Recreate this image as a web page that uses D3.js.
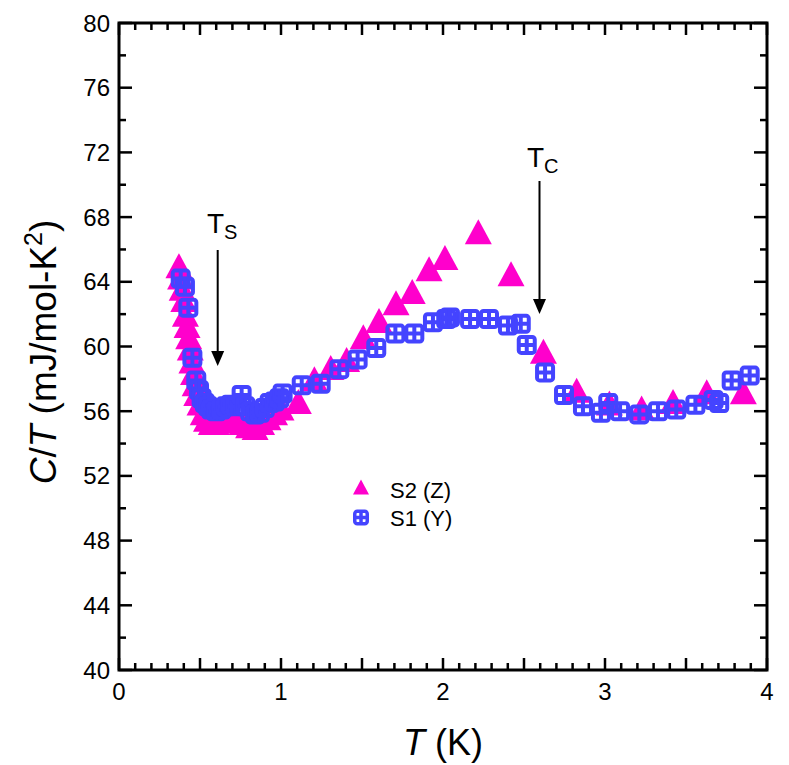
<!DOCTYPE html>
<html><head><meta charset="utf-8">
<script src="https://cdn.jsdelivr.net/npm/d3@7"></script>
<style>body{margin:0;background:#fff}svg{display:block}text{font-family:"Liberation Sans",Arial,sans-serif;fill:#000}</style>
</head><body>
<svg id="c" width="789" height="765"></svg>
<script>
// S2 (Z) – triangles
const s2T = [0.37,0.38,0.39,0.40,0.41,0.42,0.43,0.44,0.45,0.46,0.47,0.48,0.50,0.52,0.54,0.57,0.60,0.64,0.68,0.72,0.76,0.80,0.84,0.88,0.92,0.96,1.00,1.107,1.206,1.307,1.405,1.508,1.605,1.71,1.81,1.914,2.012,2.218,2.42,2.62,2.825,3.027,3.226,3.42,3.628,3.854];
const s2C = [65.0,64.3,63.6,62.9,62.0,61.3,60.6,59.9,59.1,58.4,57.7,57.1,56.5,55.9,55.5,55.3,55.3,55.4,55.6,55.5,55.3,55.1,55.0,55.3,55.6,55.9,56.2,56.6,58.0,58.7,59.2,60.6,61.6,62.7,63.4,64.8,65.5,67.1,64.5,59.7,57.3,56.5,56.2,56.6,57.2,57.2];
// S1 (Y) – squares
const s1T = [0.381,0.407,0.428,0.453,0.477,0.494,0.51,0.53,0.55,0.57,0.60,0.63,0.66,0.69,0.72,0.757,0.78,0.81,0.84,0.87,0.90,0.93,0.96,0.99,1.01,1.128,1.245,1.36,1.473,1.588,1.706,1.823,1.938,2.02,2.043,2.167,2.284,2.401,2.48,2.517,2.63,2.747,2.864,2.975,3.02,3.093,3.212,3.327,3.44,3.558,3.67,3.705,3.782,3.893];
const s1C = [64.2,63.7,62.4,59.3,57.9,57.3,56.8,56.5,56.3,56.1,56.0,56.1,56.3,56.4,56.3,57.0,56.3,56.0,55.8,55.9,56.2,56.5,56.6,56.8,57.1,57.6,57.7,58.6,59.2,59.9,60.8,60.8,61.5,61.7,61.8,61.7,61.7,61.3,61.4,60.1,58.4,57.0,56.3,55.9,56.5,56.0,55.8,56.0,56.1,56.4,56.7,56.5,57.9,58.2];
const xTickLabels = [0,1,2,3,4];
const yTickLabels = [40,44,48,52,56,60,64,68,72,76,80];
const seriesNames = ["S2 (Z)","S1 (Y)"];

const svg = d3.select("#c");
const L=119, R=767, Tp=23, B=670;
const x = d3.scaleLinear().domain([0,4]).range([L,R]);
const y = d3.scaleLinear().domain([40,80]).range([B,Tp]);
const magenta="#ff00cc", blue="#4444ff";

function tickSet(step, n0, n1){ return d3.range(n0, n1+1e-9, step).map(v=>+v.toFixed(3)); }
const xMinor = tickSet(0.1,0,4).filter(v=>Math.abs(v*2-Math.round(v*2))>1e-6);
const xMajor = tickSet(0.5,0,4);
const yMinor = tickSet(2,40,80).filter(v=>v%4!==0);
const yMajor = tickSet(4,40,80);
const g = svg.append("g").attr("stroke","#000").attr("stroke-width",2.5);
xMinor.forEach(v=>{g.append("line").attr("x1",x(v)).attr("x2",x(v)).attr("y1",B).attr("y2",B-7);
                   g.append("line").attr("x1",x(v)).attr("x2",x(v)).attr("y1",Tp).attr("y2",Tp+7);});
xMajor.forEach(v=>{g.append("line").attr("x1",x(v)).attr("x2",x(v)).attr("y1",B).attr("y2",B-12);
                   g.append("line").attr("x1",x(v)).attr("x2",x(v)).attr("y1",Tp).attr("y2",Tp+12);});
yMinor.forEach(v=>{g.append("line").attr("y1",y(v)).attr("y2",y(v)).attr("x1",L).attr("x2",L+7);
                   g.append("line").attr("y1",y(v)).attr("y2",y(v)).attr("x1",R).attr("x2",R-7);});
yMajor.forEach(v=>{g.append("line").attr("y1",y(v)).attr("y2",y(v)).attr("x1",L).attr("x2",L+13);
                   g.append("line").attr("y1",y(v)).attr("y2",y(v)).attr("x1",R).attr("x2",R-13);});
svg.append("rect").attr("x",L).attr("y",Tp).attr("width",R-L).attr("height",B-Tp)
  .attr("fill","none").attr("stroke","#000").attr("stroke-width",3);

svg.selectAll(".xl").data(xTickLabels).enter().append("text")
  .attr("x",d=>x(d)).attr("y",B+30).attr("text-anchor","middle").attr("font-size",24).text(d=>d);
svg.selectAll(".yl").data(yTickLabels).enter().append("text")
  .attr("x",L-9).attr("y",d=>y(d)+8.5).attr("text-anchor","end").attr("font-size",24).text(d=>d);

const xt = svg.append("text").attr("x",443).attr("y",755).attr("text-anchor","middle").attr("font-size",36);
xt.append("tspan").attr("font-style","italic").text("T");
xt.append("tspan").text(" (K)");
const yt = svg.append("text").attr("transform","translate(56,352) rotate(-90)").attr("text-anchor","middle").attr("font-size",37);
yt.append("tspan").attr("font-style","italic").text("C");
yt.append("tspan").text("/");
yt.append("tspan").attr("font-style","italic").text("T");
yt.append("tspan").text(" (mJ/mol-K");
yt.append("tspan").attr("font-size",25).attr("dy",-14).text("2");
yt.append("tspan").attr("dy",14).text(")");

const triPath=(w,h)=>`M0,${-h/2}L${w/2},${h/2}L${-w/2},${h/2}Z`;
function square(sel, s, sw){
  const h=s/2;
  sel.append("rect").attr("x",-h).attr("y",-h).attr("width",s).attr("height",s).attr("rx",2.5)
    .attr("fill","none").attr("stroke",blue).attr("stroke-width",sw);
  sel.append("path").attr("d",`M${-h},0H${h}M0,${-h}V${h}`).attr("stroke",blue).attr("stroke-width",sw);
}
const d2 = s2T.map((t,i)=>({t,c:s2C[i]}));
const d1 = s1T.map((t,i)=>({t,c:s1C[i]}));
svg.append("g").selectAll("path").data(d2).enter().append("path")
  .attr("transform",d=>`translate(${x(d.t)},${y(d.c)})`).attr("d",triPath(27,25)).attr("fill",magenta);
svg.append("g").selectAll("g").data(d1).enter().append("g")
  .attr("transform",d=>`translate(${x(d.t)},${y(d.c)})`).each(function(){square(d3.select(this),16,4);});

svg.append("path").attr("transform","translate(361,487)").attr("d",triPath(16,15)).attr("fill",magenta);
square(svg.append("g").attr("transform","translate(361,517.5)"),12.5,3.5);
svg.append("text").attr("x",390).attr("y",498).attr("font-size",22).text(seriesNames[0]);
svg.append("text").attr("x",390).attr("y",526).attr("font-size",22).text(seriesNames[1]);

function arrow(xp, y0, y1){
  svg.append("line").attr("x1",xp).attr("x2",xp).attr("y1",y0).attr("y2",y1-12).attr("stroke","#000").attr("stroke-width",2);
  svg.append("path").attr("d",`M${xp-6.5},${y1-15}L${xp+6.5},${y1-15}L${xp},${y1}Z`).attr("fill","#000");
}
const ts = svg.append("text").attr("x",207).attr("y",233).attr("font-size",28);
ts.append("tspan").text("T");
ts.append("tspan").attr("font-size",20).attr("dy",6).text("S");
arrow(217.7, 250, 366);
const tc = svg.append("text").attr("x",527).attr("y",167).attr("font-size",28);
tc.append("tspan").text("T");
tc.append("tspan").attr("font-size",20).attr("dy",6).text("C");
arrow(539.5, 181, 314);
</script>
</body></html>
